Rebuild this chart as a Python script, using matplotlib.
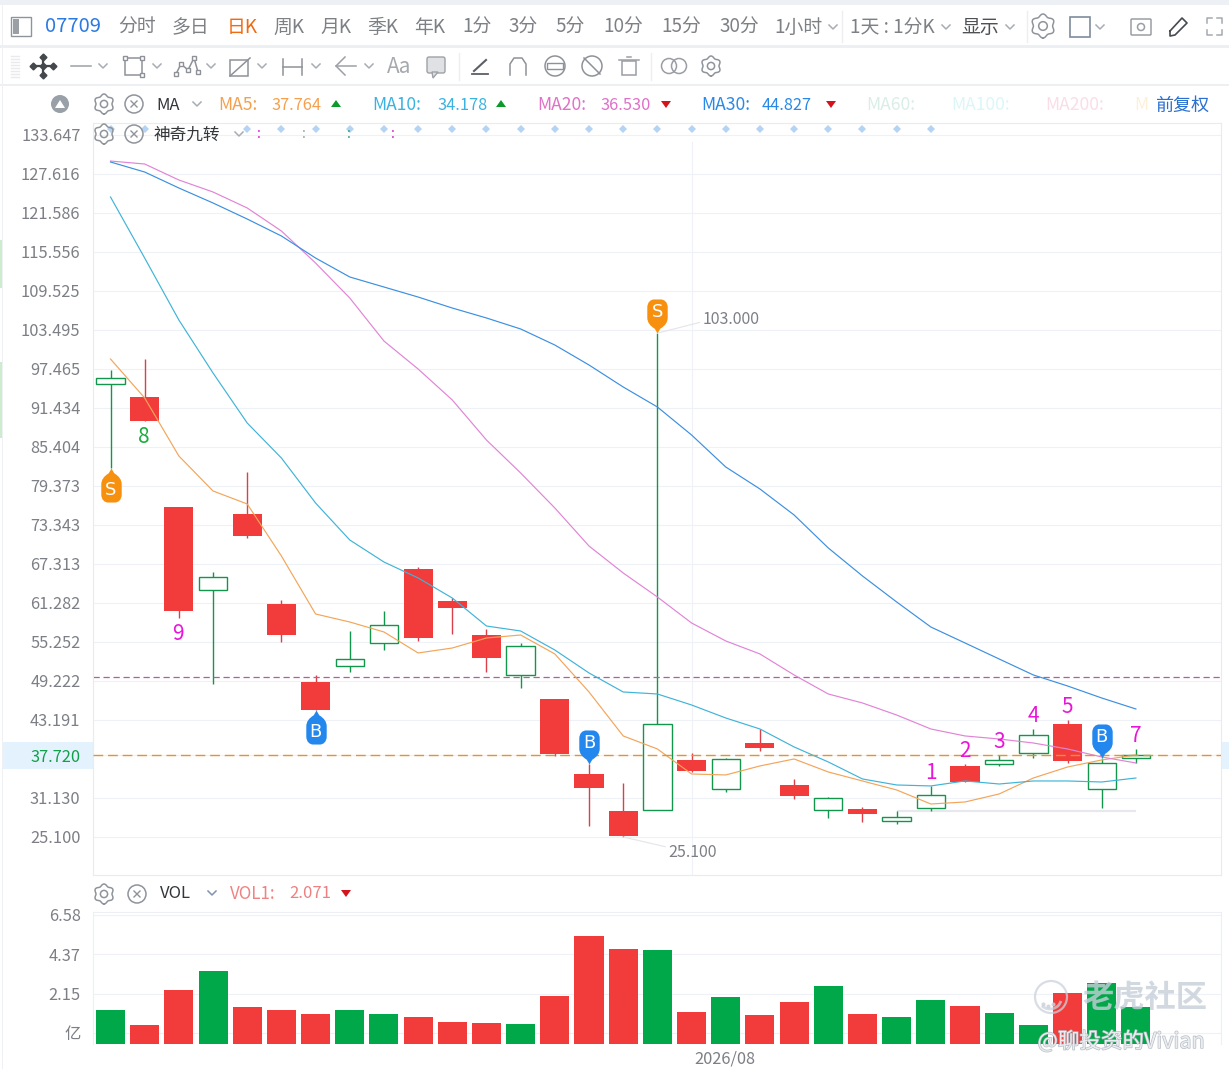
import matplotlib
matplotlib.use("Agg")
import matplotlib.pyplot as plt
import matplotlib.patheffects as pe
import numpy as np
from matplotlib.patches import Arc, Circle, Rectangle, Polygon, FancyBboxPatch
from matplotlib.path import Path

plt.rcParams['font.family'] = ['Noto Sans CJK SC', 'DejaVu Sans']

# candles
opens = [95.14, 93.13, 76.12, 63.29, 75.04, 61.13, 49.07, 51.54, 55.10, 66.54, 61.59,
         56.33, 50.15, 46.44, 34.84, 29.12, 29.27, 37.01, 32.52, 39.63, 33.14, 29.27,
         29.43, 27.57, 29.58, 36.08, 36.39, 38.09, 42.57, 32.52, 37.31]
closes = [96.07, 89.42, 60.04, 65.30, 71.64, 56.33, 44.74, 52.62, 57.88, 55.87, 60.51,
          52.78, 54.63, 37.93, 32.68, 25.25, 42.57, 35.30, 37.16, 38.86, 31.44, 31.13,
          28.66, 28.19, 31.59, 33.60, 37.01, 40.87, 36.85, 36.54, 37.78]
highs = [97.31, 99.01, 76.12, 66.07, 81.54, 61.74, 50.15, 56.95, 60.04, 66.85, 62.05,
         57.26, 55.10, 46.44, 36.39, 33.45, 103.00, 38.09, 37.31, 41.80, 34.07, 31.28,
         29.74, 29.12, 32.99, 36.39, 37.78, 41.80, 43.19, 37.31, 38.71]
lows = [82.15, 89.42, 58.96, 48.76, 71.33, 55.25, 44.74, 50.61, 54.01, 55.41, 56.49,
        50.61, 48.14, 37.62, 26.80, 25.10, 29.27, 35.15, 32.06, 38.40, 30.98, 28.04,
        27.42, 27.11, 29.12, 33.60, 36.08, 37.31, 36.54, 29.58, 36.54]

ma5 = [99.01, 92.98, 84.01, 78.60, 76.59, 68.55, 59.58, 58.34, 56.80, 53.55, 54.32,
       55.87, 56.33, 53.40, 47.52, 40.72, 38.71, 34.84, 34.69, 36.08, 37.16, 35.15,
       33.76, 32.37, 30.20, 30.51, 31.75, 34.22, 35.92, 37.01, 37.78]
ma10 = [124.06, 114.62, 105.04, 96.84, 89.11, 83.70, 76.74, 71.02, 67.62, 65.15, 62.05,
        57.72, 56.95, 54.01, 50.46, 47.52, 47.21, 45.51, 43.50, 41.80, 39.02, 36.70,
        34.07, 33.14, 32.99, 33.76, 33.29, 33.76, 33.76, 33.60, 34.22]
ma20 = [129.62, 129.16, 126.69, 124.83, 122.36, 118.80, 113.85, 108.44, 101.79, 97.46, 92.67,
        86.48, 81.38, 75.97, 70.09, 65.92, 62.21, 58.19, 55.41, 53.40, 50.15, 47.21,
        45.82, 43.96, 41.80, 40.72, 40.25, 39.63, 38.71, 37.47, 36.54]
ma30 = [129.47, 127.92, 125.45, 123.13, 120.65, 118.03, 114.62, 111.69, 110.14, 108.59, 106.89,
        105.35, 103.65, 101.17, 98.08, 94.68, 91.59, 87.26, 82.31, 78.91, 74.89, 69.79,
        65.46, 61.44, 57.57, 55.10, 52.62, 50.15, 48.45, 46.59, 44.89]

volumes = [1.24, 0.39, 2.38, 3.40, 1.41, 1.24, 1.02, 1.24, 1.02, 0.85, 0.56,
           0.51, 0.45, 2.04, 5.38, 4.64, 4.59, 1.13, 1.98, 0.96, 1.70, 2.55,
           1.02, 0.85, 1.81, 1.47, 1.07, 0.39, 2.21, 2.77, 1.41]

price_ticks = [133.647, 127.616, 121.586, 115.556, 109.525, 103.495, 97.465, 91.434, 85.404, 79.373,
               73.343, 67.313, 61.282, 55.252, 49.222, 43.191, 37.720, 31.130, 25.100]
vol_ticks = [6.58, 4.37, 2.15, -0.06]
vol_labels = ['6.58', '4.37', '2.15', '亿']

last_price = 37.72
alert_price = 49.84
support_price = 29.12

# 神奇九转 counts: candle, text, colour
nine_above = [(24, '1'), (25, '2'), (26, '3'), (27, '4'), (28, '5'), (30, '7')]
nine_below = [(1, '8', '#19ad3e'), (2, '9', '#e815d8')]
# buy / sell pins: candle, price at the tip
pins_up = [(0, 'S', 82.15), (6, 'B', 44.74)]
pins_down = [(14, 'B', 36.39), (16, 'S', 103.00), (29, 'B', 37.31)]
diamond_idx = [0, 1] + list(range(4, 25))

RED = '#f23b3b'
GREEN_BAR = '#00a84a'
GREEN_LINE = '#12964c'
GRID = '#eef1f5'
GREY = '#7c7f85'

W, H = 1229, 1069
fig = plt.figure(figsize=(W / 100, H / 100), dpi=100, facecolor='white')


def axes_box(left, top, right, bottom):
    return [left / W, 1 - bottom / H, (right - left) / W, (bottom - top) / H]


# --- price panel ---
ax = fig.add_axes(axes_box(93, 123, 1221, 875))
x = list(range(len(opens)))
ax.set_xlim(-0.512, 32.49)
ax.set_ylim(19.22, 135.50)
ax.set_facecolor('none')
for s in ax.spines.values():
    s.set_color('#e8ebef')
    s.set_linewidth(0.8)
ax.set_xticks([])
ax.set_yticks(price_ticks)
ax.set_yticklabels(['%.3f' % t for t in price_ticks], fontsize=11.8, color=GREY)
ax.tick_params(axis='y', length=0, pad=9)
ax.grid(axis='y', color=GRID, linewidth=0.8, zorder=0)
ax.axvline(17, ymin=0, ymax=0.975, color=GRID, linewidth=0.8, zorder=0)
for label, t in zip(ax.get_yticklabels(), price_ticks):
    if t == last_price:
        label.set_color('#11a04a')

for i in x:
    is_up = closes[i] > opens[i]
    top = max(opens[i], closes[i])
    bottom = min(opens[i], closes[i])
    if is_up:
        ax.vlines(i, lows[i], highs[i], color=GREEN_LINE, linewidth=1, zorder=2)
        ax.bar(i, top - bottom, bottom=bottom, width=0.83, facecolor='white',
               edgecolor=GREEN_LINE, linewidth=1, zorder=3)
    else:
        ax.vlines(i, lows[i], highs[i], color='#d9404a', linewidth=1, zorder=2)
        ax.bar(i, top - bottom, bottom=bottom, width=0.85, color=RED, linewidth=0, zorder=3)

ax.plot(x, ma5, color='#f3a55a', linewidth=0.85, zorder=4)
ax.plot(x, ma10, color='#3fb4d8', linewidth=0.85, zorder=4)
ax.plot(x, ma20, color='#e184d6', linewidth=0.85, zorder=4)
ax.plot(x, ma30, color='#3c8fe0', linewidth=0.85, zorder=4)

ax.axhline(alert_price, color='#b55c9c', linewidth=0.9, linestyle=(0, (5, 3)), zorder=2)
ax.axhline(last_price, color='#e8932a', linewidth=1, linestyle=(0, (7, 3.5)), zorder=5)
ax.hlines(support_price, 23, 30, color='#e7e8ee', linewidth=1.6, zorder=1)

# high / low callouts
ax.annotate('103.000', xy=(16, 103.0), xytext=(45, 14), textcoords='offset pixels',
            fontsize=11.5, color=GREY, va='center',
            arrowprops=dict(arrowstyle='-', color='#e4e4ea', linewidth=0.8, shrinkA=0, shrinkB=0,
                            relpos=(0, 0.35)))
ax.annotate('25.100', xy=(15, 25.1), xytext=(45, -16), textcoords='offset pixels',
            fontsize=11.5, color=GREY, va='center',
            arrowprops=dict(arrowstyle='-', color='#e4e4ea', linewidth=0.8, shrinkA=0, shrinkB=0))

# pins are anchored at their tip
pin_codes = [Path.MOVETO, Path.LINETO, Path.CURVE3, Path.CURVE3, Path.LINETO, Path.CURVE4, Path.CURVE4,
             Path.CURVE4, Path.LINETO, Path.CURVE4, Path.CURVE4, Path.CURVE4, Path.LINETO, Path.CURVE3,
             Path.CURVE3, Path.CLOSEPOLY]
pin_verts = [(0, 0), (-.08, .14), (-.3, .27), (-.3, .46), (-.3, .76), (-.3, .92), (-.2, 1), (-.1, 1),
             (.1, 1), (.2, 1), (.3, .92), (.3, .76), (.3, .46), (.3, .27), (.08, .14), (0, 0)]
pin_down = Path(pin_verts, pin_codes)
pin_up = Path([(a, -b) for a, b in pin_verts], pin_codes)
pin_colour = {'S': '#f7900f', 'B': '#2387ee'}
for i, letter, price in pins_up + pins_down:
    direction = 1 if (i, letter, price) in pins_down else -1
    ax.plot(i, price, marker=pin_down if direction > 0 else pin_up, markersize=49,
            color=pin_colour[letter], markeredgewidth=0, zorder=6, linestyle='none')
    offset = 21 if direction > 0 else -22
    ax.annotate(letter, xy=(i, price), xytext=(0, offset), textcoords='offset pixels',
                fontsize=13, color='white', ha='center', va='center', zorder=7,
                fontfamily='DejaVu Sans')

for i, text in nine_above:
    ax.annotate(text, xy=(i, highs[i]), xytext=(0, 13), textcoords='offset pixels', ha='center',
                va='center', fontsize=15, color='#e815d8', zorder=7)
for i, text, colour in nine_below:
    ax.annotate(text, xy=(i, lows[i]), xytext=(-1, -16), textcoords='offset pixels', ha='center',
                va='center', fontsize=15, color=colour, zorder=7)

ax.plot(diamond_idx, [134.5] * len(diamond_idx), linestyle='none', marker='D', markersize=4.2,
        color='#b5d3f2', markeredgewidth=0, zorder=7, clip_on=False)

# --- volume panel ---
vax = fig.add_axes(axes_box(93, 912, 1221, 1044))
vax.set_xlim(-0.512, 32.49)
vax.set_ylim(-0.685, 6.74)
vax.set_facecolor('none')
for s in vax.spines.values():
    s.set_color('#eceff3')
    s.set_linewidth(0.8)
vax.spines['bottom'].set_visible(False)
vax.set_xticks([])
vax.set_yticks(vol_ticks)
vax.set_yticklabels(vol_labels, fontsize=11.8, color=GREY)
vax.tick_params(axis='y', length=0, pad=9)
vax.grid(axis='y', color=GRID, linewidth=0.8, zorder=0)
vol_colours = [GREEN_BAR if closes[i] > opens[i] else RED for i in x]
vax.bar(x, [v + 0.685 for v in volumes], bottom=-0.685, width=0.85, color=vol_colours, linewidth=0, zorder=2)

# --- everything around the chart is drawn in pixel coordinates ---
ui = fig.add_axes([0, 0, 1, 1])
ui.set_xlim(0, W)
ui.set_ylim(H, 0)
ui.axis('off')
ui.set_facecolor('none')


def chevron(cx, cy, colour='#a9adb3', size=4):
    ui.plot([cx - size, cx, cx + size], [cy - size / 2, cy + size / 2, cy - size / 2], color=colour, linewidth=1.1)


def gear(cx, cy, r=10, colour='#8f949b'):
    t = np.linspace(0, 2 * np.pi, 120)
    rad = r * (0.9 + 0.1 * np.cos(6 * t))
    ui.plot(cx + rad * np.sin(t), cy + rad * np.cos(t), color=colour, linewidth=1.1)
    ui.add_patch(Circle((cx, cy), r * 0.36, fill=False, edgecolor=colour, linewidth=1.1))


def close_icon(cx, cy, r=9, colour='#8f949b'):
    ui.add_patch(Circle((cx, cy), r, fill=False, edgecolor=colour, linewidth=1.1))
    ui.plot([cx - 3, cx + 3], [cy - 3, cy + 3], color=colour, linewidth=1)
    ui.plot([cx - 3, cx + 3], [cy + 3, cy - 3], color=colour, linewidth=1)


def marker_tri(cx, cy, up, colour):
    d = -1 if up else 1
    ui.add_patch(Polygon([(cx - 5, cy - d * 3), (cx + 5, cy - d * 3), (cx, cy + d * 4)], color=colour, linewidth=0))


# page background pieces
ui.add_patch(Rectangle((0, 0), W, 5, color='#edf1f5', linewidth=0))
ui.add_patch(Rectangle((0, 45), W, 2.5, color='#edf0f3', linewidth=0))
ui.add_patch(Rectangle((0, 84), W, 1.5, color='#edf0f3', linewidth=0))
ui.add_patch(Rectangle((0, 240), 2, 48, color='#cdeccf', linewidth=0))
ui.add_patch(Rectangle((0, 362), 2, 76, color='#cdeccf', linewidth=0))
ui.add_patch(Rectangle((2, 5), 1, 1064, color='#eef0f3', linewidth=0))
ui.add_patch(Rectangle((1222, 742), 7, 27, color='#e3f2fc', linewidth=0))
fig.add_artist(Rectangle((3 / W, 1 - 769 / H), 90 / W, 27 / H, transform=fig.transFigure,
                         color='#e3f2fc', linewidth=0, zorder=-1))

# first toolbar
tabs = [('分时', 137), ('多日', 190), ('周K', 289), ('月K', 336), ('季K', 383), ('年K', 430), ('1分', 477),
        ('3分', 523), ('5分', 570), ('10分', 623), ('15分', 681), ('30分', 739), ('1小时', 798), ('1天 : 1分K', 892)]
for text, tx in tabs:
    ui.text(tx, 27.5, text, fontsize=13.6, color='#7d8085', ha='center', va='center')
ui.text(73, 27, '07709', fontsize=14.5, color='#2a7ae2', ha='center', va='center')
ui.text(242, 27.5, '日K', fontsize=13.6, color='#f06a12', ha='center', va='center')
ui.text(980, 27.5, '显示', fontsize=13.6, color='#4e5155', ha='center', va='center')
for cx in [833, 946, 1010, 1100]:
    chevron(cx, 27)
for sx in [842, 1027]:
    ui.plot([sx, sx], [11, 42], color='#eceef1', linewidth=1)
ui.add_patch(Rectangle((11, 17), 20, 19, fill=False, edgecolor='#8f949b', linewidth=1))
ui.add_patch(Rectangle((13, 19), 6, 15, color='#9aa0a6', linewidth=0))
gear(1043, 26, 12)
ui.add_patch(Rectangle((1070, 17), 20, 20, fill=False, edgecolor='#7f8c9c', linewidth=1.2))
ui.add_patch(FancyBboxPatch((1132, 20), 18, 14, boxstyle='round,pad=1', fill=False, edgecolor='#9a9ea4', linewidth=1.1))
ui.add_patch(Circle((1141, 27), 3.5, fill=False, edgecolor='#9a9ea4', linewidth=1.1))
ui.plot([1170, 1182, 1187, 1175, 1170, 1170], [31, 18, 23, 35, 36, 31], color='#444a50', linewidth=1.2)
for sx, sy in [(1207, 18), (1222, 18), (1207, 35), (1222, 35)]:
    dx = 5 if sx < 1215 else -5
    dy = 5 if sy < 26 else -5
    ui.plot([sx + dx, sx, sx], [sy, sy, sy + dy], color='#a5a9af', linewidth=1.1)

# drawing toolbar
for gy in range(56, 78, 3):
    ui.plot([11, 19], [gy, gy], color='#e8eaed', linewidth=1)
ui.plot([33, 54], [66, 66], color='#44484d', linewidth=1.6)
ui.plot([43, 43], [56, 76], color='#44484d', linewidth=1.6)
ui.plot([33, 43, 53], [66, 66, 66], linestyle='none', marker='D', markersize=3.5, color='#44484d')
ui.plot([43, 43], [57, 75], linestyle='none', marker='D', markersize=3.5, color='#44484d')
ui.plot([71, 91], [66, 66], color='#9ca0a6', linewidth=1.1)
ui.add_patch(Rectangle((125, 58), 17, 17, fill=False, edgecolor='#8e9298', linewidth=1.1))
ui.plot([125, 142, 142], [58, 75, 58], linestyle='none', marker='s', markersize=3, markerfacecolor='white', color='#8e9298')
ui.plot([176, 181, 188, 194, 198], [74, 64, 70, 58, 72], color='#8e9298', linewidth=1.1, marker='s', markersize=3, markerfacecolor='white')
ui.add_patch(Rectangle((230, 60), 18, 16, fill=False, edgecolor='#8e9298', linewidth=1.1))
ui.plot([230, 250], [76, 58], color='#8e9298', linewidth=1.1)
ui.plot([283, 302], [67, 67], color='#8e9298', linewidth=1.1)
ui.plot([283, 283], [59, 75], color='#8e9298', linewidth=1.1)
ui.plot([302, 302], [59, 75], color='#8e9298', linewidth=1.1)
ui.plot([336, 356], [66, 66], color='#9ca0a6', linewidth=1.1)
ui.plot([345, 336, 345], [57, 66, 75], color='#9ca0a6', linewidth=1.1)
ui.text(399, 67, 'Aa', fontsize=15, color='#a5a9ae', ha='center', va='center')
ui.add_patch(FancyBboxPatch((429, 59), 14, 12, boxstyle='round,pad=2', facecolor='#dfe1e4', edgecolor='#9ea2a7', linewidth=1))
ui.add_patch(Polygon([(432, 72), (438, 72), (433, 78)], facecolor='#dfe1e4', edgecolor='#9ea2a7', linewidth=1))
for cx in [103, 157, 211, 262, 316, 369]:
    chevron(cx, 66)
ui.plot([459, 459], [53, 80], color='#eceef1', linewidth=1)
ui.plot([651, 651], [53, 80], color='#eceef1', linewidth=1)
ui.plot([472, 488], [74, 74], color='#5c6066', linewidth=1.3)
ui.plot([474, 486], [71, 60], color='#5c6066', linewidth=1.5)
ui.plot([510, 510, 514, 522, 526, 526], [75, 64, 58, 58, 64, 75], color='#8e9298', linewidth=1.1)
ui.add_patch(Circle((555, 66), 10, fill=False, edgecolor='#8e9298', linewidth=1.1))
ui.add_patch(Rectangle((547, 63), 16, 6, facecolor='white', edgecolor='#8e9298', linewidth=1))
ui.add_patch(Circle((592, 66), 10, fill=False, edgecolor='#8e9298', linewidth=1.1))
ui.plot([584, 600], [58, 74], color='#8e9298', linewidth=1.1)
ui.add_patch(Rectangle((622, 61), 14, 14, fill=False, edgecolor='#9a9ea4', linewidth=1.1))
ui.plot([619, 639], [60, 60], color='#9a9ea4', linewidth=1.1)
ui.plot([627, 631], [57, 57], color='#9a9ea4', linewidth=1.1)
ui.add_patch(Circle((669, 66), 7.5, fill=False, edgecolor='#9a9ea4', linewidth=1.1))
ui.add_patch(Circle((679, 66), 7.5, fill=False, edgecolor='#9a9ea4', linewidth=1.1))
gear(711, 66)

# moving average legend
ui.add_patch(Circle((60, 104), 9, color='#9aa0a8', linewidth=0))
ui.add_patch(Polygon([(55, 108), (65, 108), (60, 100)], color='white', linewidth=0))
gear(104, 104)
close_icon(134, 104)
ui.text(168, 105, 'MA', fontsize=12, color='#33363a', ha='center', va='center')
chevron(197, 104)
legend_items = [('MA5:', 238, '37.764', 296, '#f5a04d', 336, True),
                ('MA10:', 397, '34.178', 463, '#3bb3e0', 501, True),
                ('MA20:', 562, '36.530', 626, '#e070c8', 666, False),
                ('MA30:', 726, '44.827', 787, '#2a88e8', 831, False)]
for name, nx, value, vx, colour, tx, up in legend_items:
    ui.text(nx, 105, name, fontsize=12.6, color=colour, ha='center', va='center')
    ui.text(vx, 105, value, fontsize=11.8, color=colour, ha='center', va='center')
    marker_tri(tx, 104, up, '#0a9b2a' if up else '#d5131c')
ui.text(891, 105, 'MA60:', fontsize=12.6, color='#d8eee6', ha='center', va='center')
ui.text(981, 105, 'MA100:', fontsize=12.6, color='#dcf6f8', ha='center', va='center')
ui.text(1075, 105, 'MA200:', fontsize=12.6, color='#fadde6', ha='center', va='center')
ui.text(1141, 105, 'M', fontsize=12.6, color='#fdf0d8', ha='center', va='center')
ui.add_patch(Rectangle((1146, 92), 75, 24, color='white', linewidth=0))
ui.text(1182, 106, '前复权', fontsize=13, color='#2a70d0', ha='center', va='center')

# nine-turn row
gear(104, 134)
close_icon(134, 134)
ui.text(187, 135, '神奇九转', fontsize=12, color='#33363a', ha='center', va='center')
chevron(239, 134)
for cx, colour in [(259, '#e815d8'), (304, '#8fa59a'), (349, '#2f9c86'), (393, '#d31fc7')]:
    ui.text(cx, 134, ':', fontsize=10, color=colour, ha='center', va='center')

# volume legend and date
gear(104, 894)
close_icon(137, 894)
ui.text(175, 894, 'VOL', fontsize=12, color='#33363a', ha='center', va='center')
chevron(212, 893, '#7f93b0')
ui.text(253, 894, 'VOL1:', fontsize=12.2, color='#f08282', ha='center', va='center')
ui.text(310, 894, '2.071', fontsize=12, color='#ee8080', ha='center', va='center')
marker_tri(346, 893, False, '#d5131c')
ui.text(725, 1059, '2026/08', fontsize=11.8, color=GREY, ha='center', va='center')

# watermark
logo = (0.8, 0.82, 0.86, 0.75)
ui.add_patch(Circle((1051, 997), 16, fill=False, edgecolor=logo, linewidth=1.6))
ui.add_patch(Arc((1050, 999), 22, 20, theta1=10, theta2=140, edgecolor=logo, linewidth=2))
ui.plot([1043, 1048, 1053], [1004, 1006, 1004], linestyle='none', marker='o', markersize=2, color=logo)
ui.text(1145, 998, '老虎社区', fontsize=22.5, fontweight='bold', color=(0.78, 0.81, 0.85, 0.8), ha='center', va='center')
outline = [pe.withStroke(linewidth=1, foreground=(0.68, 0.7, 0.74, 0.85))]
ui.text(1121, 1042, '@聊投资的Vivian', fontsize=15.5, color=(0.93, 0.94, 0.95, 0.95), ha='center', va='center', path_effects=outline)

fig.savefig('out.png', dpi=100)
